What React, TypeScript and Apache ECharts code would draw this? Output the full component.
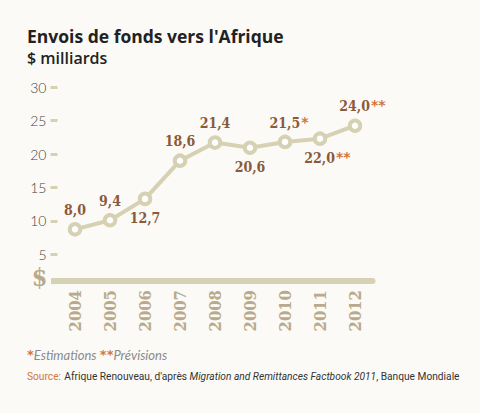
import React, { useEffect, useRef } from "react";
import * as echarts from "echarts";

const years = ["2004", "2005", "2006", "2007", "2008", "2009", "2010", "2011", "2012"];
const values = [8.0, 9.4, 12.7, 18.6, 21.4, 20.6, 21.5, 22.0, 24.0];
const labelTexts = ["8,0", "9,4", "12,7", "18,6", "21,4", "20,6", "21,5", "22,0", "24,0"];
const labelMarks = ["", "", "", "", "", "", "*", "**", "**"];
const labelBelow = [false, false, true, false, false, true, false, true, false];
const yTicks = [5, 10, 15, 20, 25, 30];

const KHAKI = "#d6d1b3";
const BROWN = "#8a5a3a";
const ORANGE = "#d2763a";
const TAN = "#b9aa8c";
const BG = "#fbfaf6";

export default function App() {
  const ref = useRef<HTMLDivElement>(null);
  useEffect(() => {
    const chart = echarts.init(ref.current!, null, { renderer: "svg" });
    const data = values.map((v, i) => {
      const mark = labelMarks[i];
      const markW = mark ? mark.length * 7 + 1 : 0;
      return {
        value: v,
        label: {
          position: labelBelow[i] ? "bottom" : "top",
          distance: 4,
          offset: [markW / 2, 0],
          formatter: mark ? `{v|${labelTexts[i]}}{s|${mark}}` : `{v|${labelTexts[i]}}`,
        },
      };
    });
    chart.setOption({
      animation: false,
      backgroundColor: BG,
      grid: { left: 57.5, width: 315, top: 86.9, height: 194.2 },
      xAxis: {
        type: "category",
        data: years,
        boundaryGap: true,
        axisLine: { show: true, lineStyle: { color: KHAKI, width: 6 } },
        axisTick: { show: false },
        axisLabel: {
          rotate: 90,
          margin: 9,
          color: TAN,
          fontFamily: "DejaVu Serif Condensed, DejaVu Serif",
          fontWeight: "bold",
          fontSize: 16.5,
        },
        splitLine: { show: false },
      },
      yAxis: [
        { type: "value", min: 0, max: 30, show: false },
        {
          type: "value",
          min: 0.96,
          max: 30.06,
          position: "left",
          axisLine: { show: false },
          axisTick: {
            show: true,
            length: 7,
            customValues: yTicks,
            lineStyle: { color: KHAKI, width: 3 },
          },
          axisLabel: {
            customValues: yTicks,
            margin: 11,
            color: "#444444",
            fontFamily: "Lato",
            fontWeight: 300,
            fontSize: 14,
          },
          splitLine: { show: false },
        },
      ],
      series: [
        {
          type: "line",
          yAxisIndex: 0,
          data,
          symbol: "circle",
          symbolSize: 10.5,
          lineStyle: { color: KHAKI, width: 4 },
          itemStyle: { color: "#ffffff", borderColor: KHAKI, borderWidth: 4 },
          label: {
            show: true,
            rich: {
              v: {
                fontFamily: "DejaVu Serif Condensed, DejaVu Serif",
                fontWeight: "bold",
                fontSize: 14,
                color: BROWN,
                lineHeight: 16,
              },
              s: {
                fontFamily: "DejaVu Sans",
                fontWeight: "bold",
                fontSize: 14,
                color: ORANGE,
                lineHeight: 1,
                verticalAlign: "top",
                padding: [0, 0, 0, 1],
              },
            },
          },
        },
      ],
      graphic: [
        {
          type: "text",
          left: 27,
          top: 26,
          style: {
            text: "Envois de fonds vers l'Afrique",
            fontFamily: "Open Sans",
            fontWeight: "bold",
            fontSize: 17.5,
            lineHeight: 20,
            fill: "#222222",
          },
        },
        {
          type: "text",
          left: 27,
          top: 49,
          style: {
            text: "$ milliards",
            fontFamily: "Open Sans",
            fontWeight: 600,
            fontSize: 16,
            lineHeight: 18,
            fill: "#222222",
          },
        },
        {
          type: "text",
          x: 39.5,
          y: 277,
          style: {
            text: "$",
            fontFamily: "DejaVu Serif Condensed, DejaVu Serif",
            fontWeight: "bold",
            fontSize: 25,
            fill: TAN,
            align: "center",
            verticalAlign: "middle",
          },
        },
        {
          type: "rect",
          shape: { x: 51, y: 278.1, width: 7, height: 6 },
          style: { fill: KHAKI },
        },
        {
          type: "text",
          x: 27,
          y: 355,
          style: {
            text: "{o|*}{g|Estimations} {o|**}{g|Prévisions}",
            verticalAlign: "middle",
            rich: {
              o: { fill: ORANGE, fontFamily: "DejaVu Sans", fontSize: 13, fontWeight: "bold", verticalAlign: "top", lineHeight: 8 },
              g: { fill: "#8a8a8a", fontFamily: "Lato", fontStyle: "italic", fontSize: 13, lineHeight: 14 },
            },
          },
        },
        {
          type: "text",
          x: 27,
          y: 376,
          style: {
            text: "{o|Source:} {t|Afrique Renouveau, d'après }{i|Migration and Remittances Factbook 2011}{t|, Banque Mondiale}",
            verticalAlign: "middle",
            rich: {
              o: { fill: ORANGE, fontFamily: "Roboto", fontSize: 10.2 },
              t: { fill: "#333333", fontFamily: "Roboto", fontSize: 10.2 },
              i: { fill: "#333333", fontFamily: "Roboto", fontStyle: "italic", fontSize: 10.2 },
            },
          },
        },
      ],
    });
    return () => chart.dispose();
  }, []);
  return (
    <div
      ref={ref}
      style={{ position: "fixed", left: 0, top: 0, width: 480, height: 413, background: BG }}
    />
  );
}
